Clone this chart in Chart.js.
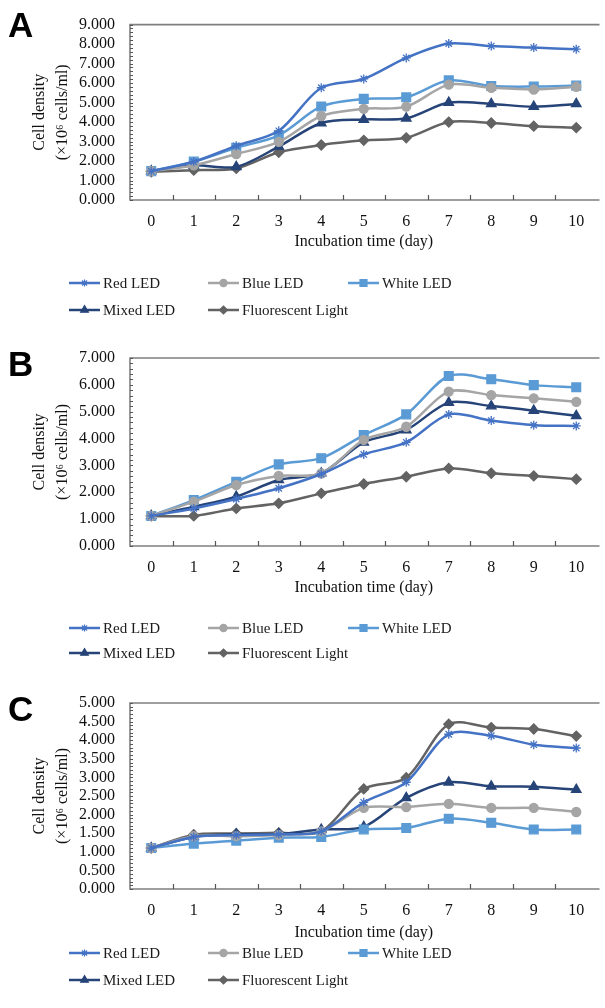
<!DOCTYPE html>
<html>
<head>
<meta charset="utf-8">
<script src="https://cdn.jsdelivr.net/npm/chart.js@4.4.1/dist/chart.umd.min.js"></script>
<style>
  body { margin: 0; background: #fff; width: 605px; height: 1008px; overflow: hidden; position: relative; }
  .panel { position: absolute; left: 0; width: 605px; }
  .letter { position: absolute; left: 8px; font: bold 35px "Liberation Sans", Arial, sans-serif; line-height: 35px; color: #000; }
</style>
</head>
<body>
<div class="panel" style="top:0;height:330px"><canvas id="chartA"></canvas></div>
<div class="panel" style="top:330px;height:335px"><canvas id="chartB"></canvas></div>
<div class="panel" style="top:665px;height:343px"><canvas id="chartC"></canvas></div>
<div class="letter" style="top:7px">A</div>
<div class="letter" style="top:346px">B</div>
<div class="letter" style="top:691px">C</div>
<script>
// 横轴：培养天数
const days = ['0', '1', '2', '3', '4', '5', '6', '7', '8', '9', '10'];
const seriesNames = ['Red LED', 'Blue LED', 'White LED', 'Mixed LED', 'Fluorescent Light'];

// 图 A
const redA   = [1.48, 1.96, 2.78, 3.55, 5.76, 6.21, 7.29, 8.03, 7.90, 7.82, 7.74];
const blueA  = [1.48, 1.78, 2.36, 2.98, 4.31, 4.68, 4.79, 5.92, 5.76, 5.67, 5.81];
const whiteA = [1.48, 1.97, 2.68, 3.32, 4.80, 5.19, 5.27, 6.14, 5.85, 5.82, 5.87];
const mixedA = [1.48, 1.78, 1.70, 2.74, 3.95, 4.13, 4.19, 5.00, 4.93, 4.79, 4.93];
const fluorA = [1.45, 1.53, 1.62, 2.45, 2.82, 3.06, 3.19, 4.00, 3.95, 3.79, 3.71];

// 图 B
const redB   = [1.12, 1.40, 1.75, 2.15, 2.68, 3.41, 3.86, 4.90, 4.67, 4.50, 4.47];
const blueB  = [1.12, 1.65, 2.27, 2.61, 2.70, 3.95, 4.44, 5.75, 5.62, 5.50, 5.37];
const whiteB = [1.12, 1.71, 2.39, 3.04, 3.27, 4.13, 4.90, 6.33, 6.21, 5.99, 5.91];
const mixedB = [1.12, 1.46, 1.84, 2.46, 2.71, 3.86, 4.32, 5.34, 5.21, 5.04, 4.85];
const fluorB = [1.12, 1.12, 1.40, 1.59, 1.96, 2.31, 2.58, 2.89, 2.71, 2.61, 2.49];

// 图 C
const redC   = [1.10, 1.40, 1.45, 1.47, 1.55, 2.33, 2.87, 4.16, 4.12, 3.88, 3.79];
const blueC  = [1.10, 1.42, 1.42, 1.45, 1.55, 2.18, 2.20, 2.29, 2.18, 2.18, 2.07];
const whiteC = [1.10, 1.22, 1.30, 1.38, 1.40, 1.60, 1.64, 1.89, 1.78, 1.60, 1.60];
const mixedC = [1.10, 1.40, 1.47, 1.48, 1.60, 1.67, 2.45, 2.87, 2.76, 2.75, 2.67];
const fluorC = [1.10, 1.46, 1.49, 1.51, 1.55, 2.69, 2.99, 4.43, 4.34, 4.30, 4.11];

// 纵轴上限与刻度间隔
const yMaxA = 9, yStepA = 1;
const yMaxB = 7, yStepB = 1;
const yMaxC = 5, yStepC = 0.5;

const colors = ['#4472c4', '#a5a5a5', '#5b9bd5', '#264478', '#636363'];
const markers = ['star', 'circle', 'rect', 'triangle', 'rectRot'];
const markerSize = [4.5, 4.5, 6.2, 5.5, 5];
const serif = '"Liberation Serif", "Times New Roman", serif';

Chart.defaults.font.family = serif;
Chart.defaults.color = '#111';

// 坐标框、x 轴分隔刻度、y 轴次刻度
const axisBox = {
  id: 'axisBox',
  beforeDatasetsDraw(chart, args, opts) {
    const { ctx, chartArea: a } = chart;
    const y = chart.scales.y;
    ctx.save();
    ctx.strokeStyle = '#7f7f7f';
    ctx.lineWidth = 1.6;
    ctx.beginPath();
    ctx.moveTo(a.right + 2, a.top);
    ctx.lineTo(a.left, a.top);
    ctx.lineTo(a.left, a.bottom);
    ctx.lineTo(a.right + 2, a.bottom);
    ctx.stroke();
    ctx.lineWidth = 1.2;
    ctx.strokeStyle = '#555';
    ctx.beginPath();
    const n = chart.data.labels.length;
    const w = (a.right - a.left) / n;
    for (let i = 1; i < n; i++) {
      const x = Math.round(a.left + i * w) + 0.5;
      ctx.moveTo(x, a.bottom);
      ctx.lineTo(x, a.bottom - 5);
    }
    ctx.stroke();
    ctx.lineWidth = 1;
    ctx.beginPath();
    for (let v = 0; v <= y.max + 1e-9; v += opts.minor) {
      const py = Math.round(y.getPixelForValue(v)) + 0.5;
      ctx.moveTo(a.left, py);
      ctx.lineTo(a.left + 3, py);
    }
    ctx.stroke();
    ctx.restore();
  }
};

// 三列图例
const gridLegend = {
  id: 'gridLegend',
  afterDraw(chart, args, opts) {
    const ctx = chart.ctx;
    const cols = [69, 208, 348];
    ctx.save();
    ctx.font = '15px ' + serif;
    ctx.textBaseline = 'middle';
    chart.data.datasets.forEach((ds, i) => {
      const x = cols[i % 3];
      const y = opts.rows[Math.floor(i / 3)];
      ctx.strokeStyle = ds.borderColor;
      ctx.lineWidth = 2.5;
      ctx.beginPath();
      ctx.moveTo(x, y);
      ctx.lineTo(x + 31, y);
      ctx.stroke();
      ctx.fillStyle = ds.borderColor;
      ctx.lineWidth = 1.2;
      Chart.helpers.drawPoint(ctx, { pointStyle: ds.pointStyle, radius: ds.pointRadius * 0.8, rotation: 0, borderWidth: 1.2 }, x + 15.5, y);
      ctx.fillStyle = '#1a1a1a';
      ctx.fillText(ds.label, x + 34, y + 1);
    });
    ctx.restore();
  }
};

function makeChart(id, values, yMax, yStep, layout) {
  const datasets = values.map((vals, i) => ({
    label: seriesNames[i],
    data: vals,
    borderColor: colors[i],
    backgroundColor: colors[i],
    pointBackgroundColor: colors[i],
    pointBorderColor: colors[i],
    pointStyle: markers[i],
    pointRadius: markerSize[i],
    pointBorderWidth: 1.3,
    borderWidth: 2.5,
    tension: 0.3,
    fill: false
  }));
  return new Chart(document.getElementById(id), {
    type: 'line',
    data: { labels: days, datasets: datasets },
    options: {
      responsive: true,
      maintainAspectRatio: false,
      animation: false,
      devicePixelRatio: 1,
      layout: { padding: { top: layout.top, bottom: layout.bottom, left: 0, right: 0 } },
      plugins: {
        legend: { display: false },
        tooltip: { enabled: false },
        axisBox: { minor: yStep / 5 },
        gridLegend: { rows: layout.rows }
      },
      scales: {
        x: {
          offset: true,
          grid: { display: false, drawTicks: false },
          border: { display: false },
          ticks: { padding: 12, font: { size: 16 }, color: '#111', maxRotation: 0 },
          title: { display: true, text: 'Incubation time (day)', font: { size: 16 }, color: '#111', padding: 0 },
          afterFit: s => { s.height = layout.xh; }
        },
        y: {
          min: 0,
          max: yMax,
          grid: { display: false, drawTicks: false },
          border: { display: false },
          ticks: { stepSize: yStep, autoSkip: false, padding: 15, font: { size: 16 }, color: '#111', callback: v => Number(v).toFixed(3) },
          title: {
            display: true,
            text: ['Cell density', '(\u00d710\u2076 cells/ml)'],
            font: { size: 16, lineHeight: 1.4 },
            color: '#111',
            padding: { top: 29, bottom: 0 }
          },
          afterFit: s => { s.width = 130; }
        }
      }
    },
    plugins: [axisBox, gridLegend]
  });
}

makeChart('chartA', [redA, blueA, whiteA, mixedA, fluorA], yMaxA, yStepA,
  { top: 14, bottom: 330 - 200 - 51, xh: 51, rows: [283, 310] });
makeChart('chartB', [redB, blueB, whiteB, mixedB, fluorB], yMaxB, yStepB,
  { top: 28, bottom: 335 - 216 - 51, xh: 51, rows: [298, 323] });
makeChart('chartC', [redC, blueC, whiteC, mixedC, fluorC], yMaxC, yStepC,
  { top: 38, bottom: 343 - 224 - 53, xh: 53, rows: [288, 315] });
</script>
</body>
</html>
